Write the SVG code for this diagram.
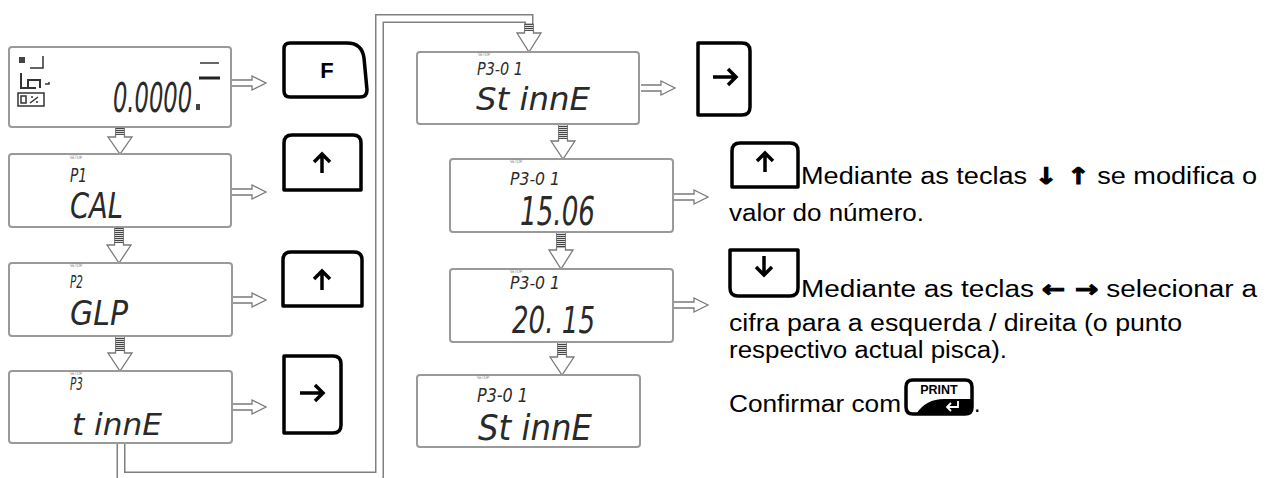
<svg xmlns="http://www.w3.org/2000/svg" width="1268" height="478" viewBox="0 0 1268 478">
<style>
.lcd{fill:#fff;stroke:#9a9a9a;stroke-width:2}
.seg{font-family:"DejaVu Sans",sans-serif;font-style:italic;font-stretch:condensed;fill:#2a2a2a}
.tiny{font-family:"DejaVu Sans",sans-serif;font-size:4.5px;fill:#777}
.ha{fill:#fff;stroke:#7a7a7a;stroke-width:1.3;stroke-linejoin:miter}
.st{fill:url(#hatch);stroke:#666;stroke-width:0.8}
.key{fill:#fff;stroke:#000;stroke-width:3.5;stroke-linejoin:round}
.ka{fill:none;stroke:#000;stroke-width:3.5;stroke-linecap:butt;stroke-linejoin:miter}
.txt{font-family:"Liberation Sans",Arial,sans-serif;font-size:23px;fill:#000}
.ar{font-family:"DejaVu Sans",sans-serif;font-weight:bold;stroke:#000;stroke-width:1}
</style>
<defs>
<pattern id="hatch" width="4" height="2" patternUnits="userSpaceOnUse"><rect width="4" height="2" fill="#ddd"/><rect width="4" height="1" fill="#444"/></pattern>
<path id="ra" d="M0,-3 H20 V-7 L34,0 L20,7 V3 H0" class="ha"/>
</defs>

<!-- connectors -->
<g id="connectors">
<path d="M121,443 V476 H379.5 V18.5 H529 V24" fill="none" stroke="#808080" stroke-width="9"/>
<path d="M121,443 V476 H379.5 V18.5 H529 V24" fill="none" stroke="#fff" stroke-width="6"/>
<rect class="st" x="524.5" y="24" width="9" height="7"/>
<path class="ha" d="M524.5,31 V33 H517 L529,52 L541,33 H533.5 V31"/>
<rect class="st" x="115.5" y="127" width="9" height="8"/>
<path class="ha" d="M115.5,135 V137 H108 L120,154 L132,137 H124.5 V135"/>
<rect class="st" x="114.5" y="227" width="9" height="16"/>
<path class="ha" d="M114.5,243 V245 H107 L119,263 L131,245 H123.5 V243"/>
<rect class="st" x="115.5" y="336" width="9" height="15"/>
<path class="ha" d="M115.5,351 V353 H108 L120,371 L132,353 H124.5 V351"/>
<rect class="st" x="558.5" y="124" width="9" height="15"/>
<path class="ha" d="M558.5,139 V141 H551 L563,159 L575,141 H567.5 V139"/>
<rect class="st" x="556.5" y="232" width="9" height="16"/>
<path class="ha" d="M556.5,248 V250 H549 L561,269 L573,250 H565.5 V248"/>
<rect class="st" x="557.5" y="342" width="9" height="13"/>
<path class="ha" d="M557.5,355 V357 H550 L562,375 L574,357 H566.5 V355"/>
<use href="#ra" x="232" y="83"/>
<use href="#ra" x="232" y="192"/>
<use href="#ra" x="232" y="300"/>
<use href="#ra" x="232" y="407"/>
<use href="#ra" x="641" y="88"/>
<use href="#ra" x="674" y="197"/>
<use href="#ra" x="674" y="305"/>
</g>

<!-- LCD screens -->
<g id="lcd-weight">
<rect class="lcd" x="9" y="47" width="222" height="80" rx="3"/>
<g fill="none" stroke="#333" stroke-width="1.5">
<rect x="19" y="57" width="6" height="6" fill="#444" stroke="none"/>
<path d="M43,56 V68 H30"/>
<path d="M21,73 V88 H36 M28,88 V80 H40 V88" stroke-width="2"/>
<path d="M45,84 h4 v-2"/>
<rect x="18" y="93" width="26" height="13"/>
<path d="M21,96 h5 v7 h-5 z M30,103 l8,-6 M31,97 h2 M36,102 h2"/>
</g>
<text class="seg" x="113" y="112" font-size="40" textLength="79" lengthAdjust="spacingAndGlyphs">0.0000</text>
<rect x="196" y="104" width="4" height="6" fill="#444"/>
<path d="M200,63 H219" stroke="#333" stroke-width="1.5"/>
<path d="M199,78 H220" stroke="#222" stroke-width="3"/>
</g>

<g id="lcd-p1">
<rect class="lcd" x="9" y="154" width="222" height="73" rx="3"/>
<text class="tiny" x="70" y="159" textLength="12" lengthAdjust="spacingAndGlyphs">SETUP</text>
<text class="seg" x="70" y="182" font-size="20" textLength="17" lengthAdjust="spacingAndGlyphs">P1</text>
<text class="seg" x="70" y="218" font-size="36" textLength="53" lengthAdjust="spacingAndGlyphs">CAL</text>
</g>

<g id="lcd-p2">
<rect class="lcd" x="9" y="263" width="223" height="73" rx="3"/>
<text class="tiny" x="70" y="267" textLength="12" lengthAdjust="spacingAndGlyphs">SETUP</text>
<text class="seg" x="70" y="288" font-size="18" textLength="13" lengthAdjust="spacingAndGlyphs">P2</text>
<text class="seg" x="70" y="325" font-size="34" textLength="58" lengthAdjust="spacingAndGlyphs">GLP</text>
</g>

<g id="lcd-p3">
<rect class="lcd" x="9" y="371" width="223" height="72" rx="3"/>
<text class="tiny" x="70" y="375" textLength="12" lengthAdjust="spacingAndGlyphs">SETUP</text>
<text class="seg" x="70" y="390" font-size="17" textLength="13" lengthAdjust="spacingAndGlyphs">P3</text>
<text class="seg" x="72" y="435" font-size="30" textLength="90" lengthAdjust="spacingAndGlyphs">t innE</text>
</g>

<g id="lcd-p301a">
<rect class="lcd" x="417" y="52" width="222" height="72" rx="3"/>
<text class="tiny" x="478" y="56" textLength="12" lengthAdjust="spacingAndGlyphs">SETUP</text>
<text class="seg" x="477" y="75" font-size="18" textLength="46" lengthAdjust="spacingAndGlyphs">P3-0 1</text>
<text class="seg" x="476" y="110" font-size="32" textLength="114" lengthAdjust="spacingAndGlyphs">St innE</text>
</g>

<g id="lcd-1506">
<rect class="lcd" x="450" y="159" width="223" height="73" rx="3"/>
<text class="tiny" x="510" y="163" textLength="12" lengthAdjust="spacingAndGlyphs">SETUP</text>
<text class="seg" x="510" y="185" font-size="18" textLength="50" lengthAdjust="spacingAndGlyphs">P3-0 1</text>
<text class="seg" x="520" y="225" font-size="39" textLength="75" lengthAdjust="spacingAndGlyphs">15.06</text>
</g>

<g id="lcd-2015">
<rect class="lcd" x="450" y="269" width="223" height="73" rx="3"/>
<text class="tiny" x="510" y="273" textLength="12" lengthAdjust="spacingAndGlyphs">SETUP</text>
<text class="seg" x="510" y="289" font-size="17" textLength="50" lengthAdjust="spacingAndGlyphs">P3-0 1</text>
<text class="seg" x="512" y="333" font-size="38" textLength="83" lengthAdjust="spacingAndGlyphs">20. 15</text>
</g>

<g id="lcd-p301b">
<rect class="lcd" x="417" y="375" width="223" height="72" rx="3"/>
<text class="tiny" x="477" y="379" textLength="12" lengthAdjust="spacingAndGlyphs">SETUP</text>
<text class="seg" x="477" y="402" font-size="19" textLength="51" lengthAdjust="spacingAndGlyphs">P3-0 1</text>
<text class="seg" x="478" y="440" font-size="36" textLength="114" lengthAdjust="spacingAndGlyphs">St innE</text>
</g>

<!-- keys -->
<g id="key-f">
<path class="key" d="M290,43 H347 Q362,43 364,58 L367,90 Q367,97 360,97 H290 Q284,97 284,91 V49 Q284,43 290,43 Z"/>
<text x="327" y="78" text-anchor="middle" font-family="Liberation Sans, Arial, sans-serif" font-weight="bold" font-size="22">F</text>
</g>
<g id="key-up1">
<path class="key" d="M284,190 V143 Q284,135 292,135 H353 Q361,135 361,143 V190 Z"/>
<path class="ka" d="M322,173 V154 M314,162 L322,154 L330,162"/>
</g>
<g id="key-up2">
<path class="key" d="M283,306 V260 Q283,252 291,252 H354 Q362,252 362,260 V306 Z"/>
<path class="ka" d="M322,290 V271 M314,279 L322,271 L330,279"/>
</g>
<g id="key-right1">
<path class="key" d="M284,356 H333 Q341,356 341,364 V425 Q341,433 333,433 H284 Z"/>
<path class="ka" d="M300,393 H323 M315,385 L323,393 L315,401"/>
</g>
<g id="key-right2">
<path class="key" d="M698,43 H742 Q750,43 750,51 V107 Q750,115 742,115 H698 Z"/>
<path class="ka" d="M713,77 H736 M728,69 L736,77 L728,85"/>
</g>
<g id="key-up3">
<path class="key" d="M732,187 V151 Q732,143 740,143 H790 Q798,143 798,151 V187 Z"/>
<path class="ka" d="M765,172 V153 M757,161 L765,153 L773,161"/>
</g>
<g id="key-down">
<path class="key" d="M730,250 V288 Q730,296 738,296 H790 Q798,296 798,288 V250 Z"/>
<path class="ka" d="M764,256 V275 M756,267 L764,275 L772,267"/>
</g>
<g id="key-print">
<path class="key" d="M913,380 H965 Q972,380 972,387 V407 Q972,414 965,414 H913 Q906,414 906,407 V387 Q906,380 913,380 Z" stroke-width="3"/>
<path d="M916,414 Q926,399 944,399 H972 V407 Q972,414 965,414 Z" fill="#000"/>
<text x="939" y="394" text-anchor="middle" font-family="Liberation Sans, Arial, sans-serif" font-weight="bold" font-size="12.5">PRINT</text>
<path d="M958,401 V407 H947 M951,403 L947,407 L951,411" fill="none" stroke="#fff" stroke-width="1.8"/>
</g>

<!-- text -->
<g id="notes">
<text class="txt" x="801" y="184" textLength="456" lengthAdjust="spacingAndGlyphs">Mediante as teclas <tspan class="ar">↓ ↑</tspan> se modifica o</text>
<text class="txt" x="729" y="221" textLength="195" lengthAdjust="spacingAndGlyphs">valor do número.</text>
<text class="txt" x="801" y="297" textLength="456" lengthAdjust="spacingAndGlyphs">Mediante as teclas <tspan class="ar">← →</tspan> selecionar a</text>
<text class="txt" x="729" y="331" textLength="453" lengthAdjust="spacingAndGlyphs">cifra para a esquerda / direita (o punto</text>
<text class="txt" x="729" y="358" textLength="278" lengthAdjust="spacingAndGlyphs">respectivo actual pisca).</text>
<text class="txt" x="729" y="412" textLength="172" lengthAdjust="spacingAndGlyphs">Confirmar com</text>
<text class="txt" x="974" y="412">.</text>
</g>
</svg>
